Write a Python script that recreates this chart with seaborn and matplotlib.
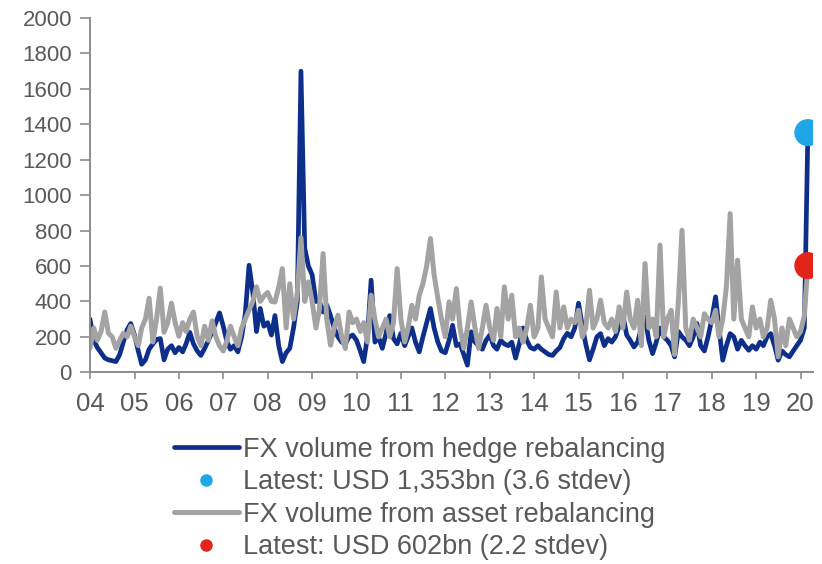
import matplotlib
matplotlib.use("Agg")
import matplotlib.pyplot as plt
from matplotlib.lines import Line2D
import pandas as pd
import seaborn as sns

# monthly FX volume estimates, USD bn, Jan 2004 - Mar 2020
hedge_vals = [
    300, 180, 140, 110, 80, 70, 65, 60, 100, 170, 240, 275,        # 2004
    210, 120, 45, 70, 130, 160, 185, 190, 70, 130, 150, 110,       # 2005
    140, 115, 160, 225, 160, 120, 95, 135, 180, 230, 280, 335,     # 2006
    260, 170, 130, 150, 115, 200, 330, 604, 450, 230, 360, 260,    # 2007
    280, 210, 320, 150, 60, 110, 135, 250, 400, 1700, 700, 600,    # 2008
    550, 400, 400, 340, 380, 320, 250, 200, 170, 160, 200, 210,    # 2009
    180, 120, 60, 200, 520, 170, 200, 135, 220, 320, 190, 160,     # 2010
    220, 150, 200, 250, 170, 115, 200, 280, 360, 250, 170, 120,    # 2011
    110, 180, 265, 150, 160, 100, 40, 228, 170, 150, 130, 180,     # 2012
    210, 150, 130, 180, 160, 150, 170, 80, 160, 250, 180, 140,     # 2013
    130, 150, 130, 115, 100, 95, 120, 140, 190, 220, 200, 250,     # 2014
    390, 260, 160, 70, 130, 200, 218, 150, 190, 170, 200, 260,     # 2015
    322, 210, 180, 143, 170, 250, 313, 180, 105, 170, 250, 200,    # 2016
    180, 150, 87, 230, 200, 181, 150, 200, 275, 150, 120, 200,     # 2017
    300, 426, 250, 68, 150, 218, 200, 130, 180, 150, 124, 150,     # 2018
    130, 170, 150, 200, 218, 150, 68, 120, 100, 87, 120, 150,      # 2019
    181, 250, 1353,                                                # 2020
]
asset_vals = [
    135, 250, 180, 230, 340, 220, 200, 135, 180, 220, 200, 260,    # 2004
    200, 150, 250, 300, 418, 171, 300, 475, 226, 280, 390, 280,    # 2005
    203, 280, 230, 300, 340, 200, 150, 260, 180, 290, 200, 150,    # 2006
    120, 180, 260, 200, 150, 250, 300, 350, 400, 482, 400, 430,    # 2007
    450, 400, 397, 480, 585, 250, 500, 300, 450, 760, 400, 510,    # 2008
    400, 250, 350, 670, 300, 153, 250, 322, 200, 134, 340, 280,    # 2009
    300, 230, 280, 171, 435, 300, 200, 250, 300, 200, 280, 585,    # 2010
    300, 171, 250, 378, 300, 435, 500, 600, 755, 550, 418, 300,    # 2011
    200, 397, 300, 472, 250, 135, 250, 397, 250, 135, 250, 378,    # 2012
    250, 180, 360, 200, 482, 300, 435, 200, 250, 170, 250, 378,    # 2013
    200, 250, 538, 300, 250, 200, 453, 250, 369, 250, 300, 280,    # 2014
    350, 200, 250, 463, 250, 300, 407, 280, 250, 300, 230, 369,    # 2015
    250, 453, 300, 250, 407, 150, 614, 250, 300, 200, 718, 200,    # 2016
    300, 350, 100, 400, 802, 250, 181, 300, 250, 200, 330, 300,    # 2017
    280, 350, 200, 300, 482, 896, 300, 633, 300, 250, 200, 369,    # 2018
    250, 300, 200, 250, 407, 300, 87, 250, 150, 300, 250, 200,     # 2019
    230, 320, 602,                                                 # 2020
]
year_labels = [f"{y % 100:02d}" for y in range(2004, 2021)]
legend_labels = [
    "FX volume from hedge rebalancing",
    "Latest: USD 1,353bn (3.6 stdev)",
    "FX volume from asset rebalancing",
    "Latest: USD 602bn (2.2 stdev)",
]

navy = "#0d2f8a"
grey = "#a3a3a3"
light_blue = "#1ea6e6"
red = "#e3241b"
text_col = "#595959"

dates = pd.date_range("2004-01-01", periods=len(hedge_vals), freq="MS")
df = pd.DataFrame({"date": dates, "hedge": hedge_vals, "asset": asset_vals})
last = df.iloc[[-1]]

sns.set_style("white")
plt.rcParams["font.family"] = ["Liberation Sans", "DejaVu Sans"]

fig = plt.figure(figsize=(8.22, 5.64), dpi=100)
ax = fig.add_axes([0.1095, 0.34, 0.8795, 0.628])

sns.lineplot(data=df, x="date", y="hedge", color=navy, lw=3.4, ax=ax)
sns.lineplot(data=df, x="date", y="asset", color=grey, lw=3.6, ax=ax)
sns.scatterplot(data=last, x="date", y="hedge", color=light_blue, s=380,
                edgecolor="none", zorder=5, ax=ax)
sns.scatterplot(data=last, x="date", y="asset", color=red, s=380,
                edgecolor="none", zorder=5, ax=ax)

ax.set_ylim(0, 2000)
ax.set_yticks(range(0, 2001, 200))
ax.set_xlim(pd.Timestamp("2004-01-01"), pd.Timestamp("2020-04-12"))
ax.set_xticks(pd.date_range("2004-01-01", "2020-01-01", freq="YS"))
ax.set_xticklabels(year_labels)
ax.set_xlabel("")
ax.set_ylabel("")

sns.despine(ax=ax)
for side in ["left", "bottom"]:
    ax.spines[side].set_color("#8c8c8c")
    ax.spines[side].set_linewidth(1.4)
ax.tick_params(axis="y", direction="out", length=7, width=1.2, color="#8c8c8c",
               labelsize=16, labelcolor=text_col, pad=6, left=True)
ax.tick_params(axis="x", direction="out", length=5, width=1.2, color="#8c8c8c",
               labelsize=18.5, labelcolor=text_col, pad=9, bottom=True)

handles = [
    Line2D([], [], color=navy, lw=3.4),
    Line2D([], [], ls="none", marker="o", color=light_blue, markersize=8),
    Line2D([], [], color=grey, lw=3.6),
    Line2D([], [], ls="none", marker="o", color=red, markersize=8),
]
leg = fig.legend(handles, legend_labels, loc="upper left",
                 bbox_to_anchor=(0.195, 0.25), frameon=False, fontsize=19.5,
                 handlelength=2.4, handletextpad=0.15, labelspacing=0.24,
                 borderpad=0)
for t in leg.get_texts():
    t.set_color(text_col)

fig.savefig("out.png", dpi=100)
